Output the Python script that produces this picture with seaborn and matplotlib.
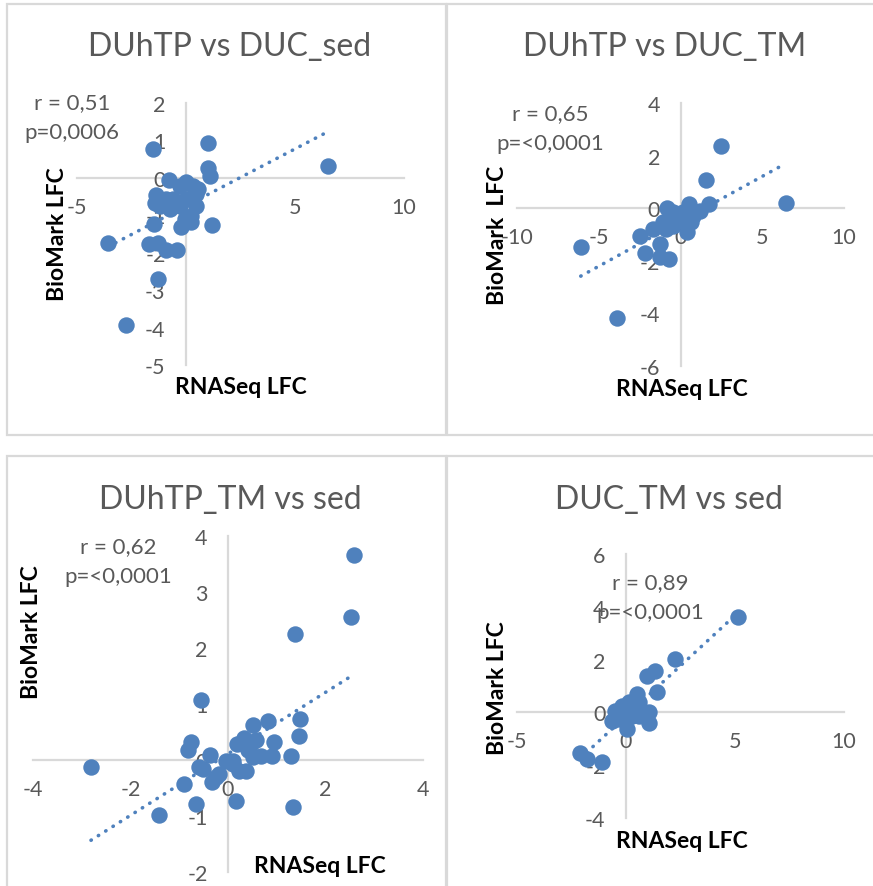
import numpy as np
import seaborn as sns
import matplotlib.pyplot as plt
from matplotlib.ticker import MultipleLocator
from matplotlib.patches import Rectangle

# values (RNASeq LFC vs BioMark LFC)
p1_x = [-1.53, 0.99, 6.51, 1.01, 1.10, -0.80, -3.58, -2.74, -1.30, -1.48, 1.21, -0.21, 0.24,
        -1.71, -1.30, -0.93, -0.41, -1.36, -1.44, -0.90, -1.21, -0.75, -0.29, 0.02, 0.32,
        0.55, 0.47, 0.47, 0.02, -0.29, -0.60, 0.24, -0.06]
p1_y = [0.77, 0.93, 0.32, 0.26, 0.04, -0.07, -1.74, -3.93, -2.70, -1.24, -1.26, -1.31, -1.17,
        -1.78, -1.75, -1.94, -1.92, -0.47, -0.67, -0.56, -0.74, -0.83, -0.21, -0.12, -0.21,
        -0.29, -0.43, -0.74, -0.56, -0.74, -0.56, -1.01, -1.10]

p2_x = [2.47, 1.59, 6.43, 1.76, 0.53, -0.80, 1.22, -6.10, -2.47, -2.18, -3.86, -0.69, -1.27,
        -1.27, -1.67, -0.45, -0.04, 0.37, 0.67, 0.37, -0.45, -0.86, -1.06, -0.24, -0.65, 0.16, 0.78]
p2_y = [2.35, 1.08, 0.20, 0.16, 0.16, 0.00, -0.10, -1.46, -1.04, -1.70, -4.18, -1.95, -1.86,
        -1.35, -0.78, -0.15, -0.28, -0.53, -0.53, -0.91, -0.66, -0.78, -0.53, -0.41, -0.41, -0.15, -0.28]

p3_x = [2.58, 2.52, 1.38, -0.56, -2.81, -1.41, -0.66, 0.16, 1.33, -0.90, -0.33, -0.75, -0.83,
        -0.37, 0.51, 0.83, 1.48, 1.45, 0.95, 1.29, 0.90, 0.68, 0.18, 0.33, 0.47, 0.57, 0.40,
        0.51, -0.04, 0.10, 0.23, 0.37, -0.18, -0.52, -0.59, -0.25, 0.10]
p3_y = [3.66, 2.55, 2.25, 1.08, -0.12, -0.99, -0.79, -0.74, -0.84, -0.43, -0.40, 0.32, 0.18,
        0.09, 0.62, 0.70, 0.74, 0.43, 0.32, 0.07, 0.07, 0.07, 0.29, 0.40, 0.29, 0.35, 0.17,
        0.05, -0.01, -0.07, -0.19, -0.19, -0.25, -0.16, -0.13, -0.31, -0.01]

p4_x = [5.15, 2.24, 1.35, 0.96, 1.42, 0.51, -2.10, -1.79, -1.10, 1.07, 0.05, -0.64, -0.49,
        -0.18, 0.12, 0.43, 0.74, 1.04, 0.58, 0.28, -0.03, -0.34, 0.20, 0.58]
p4_y = [3.63, 2.04, 1.58, 1.39, 0.76, 0.69, -1.54, -1.77, -1.87, -0.40, -0.63, -0.32, 0.06,
        0.25, 0.38, 0.19, 0.06, 0.00, -0.13, -0.13, -0.13, -0.25, 0.06, 0.38]

titles = ['DUhTP vs DUC_sed', 'DUhTP vs DUC_TM', 'DUhTP_TM vs sed', 'DUC_TM vs sed']
r_texts = ['r = 0,51', 'r = 0,65', 'r = 0,62', 'r = 0,89']
p_texts = ['p=0,0006', 'p=<0,0001', 'p=<0,0001', 'p=<0,0001']
ylabels = ['BioMark LFC', 'BioMark  LFC', 'BioMark LFC', 'BioMark LFC']
xlabel = 'RNASeq LFC'

W, H = 873, 887
BLUE = '#4F81BD'
GREY = '#595959'
LINE = '#D9D9D9'

sns.set_style('white')
plt.rcParams['font.family'] = ['Lato', 'DejaVu Sans']
plt.rcParams['axes.unicode_minus'] = False


def px(x, y):
    return x / W, 1 - y / H


def draw_panel(fig, box, x, y, xlim, ylim, xstep, ystep, ystep_minor):
    x0, x1, y0, y1 = box
    ax = fig.add_axes([x0 / W, 1 - y1 / H, (x1 - x0) / W, (y1 - y0) / H])
    ax.set_facecolor('none')
    sns.scatterplot(x=x, y=y, ax=ax, s=140, color=BLUE, linewidth=0, zorder=1)
    sns.regplot(x=x, y=y, ax=ax, scatter=False, ci=None, truncate=True,
                line_kws=dict(color=BLUE, lw=2.6, ls=(0, (0.1, 2.3)),
                              dash_capstyle='round', zorder=2))
    ax.set_xlim(xlim)
    ax.set_ylim(ylim)
    ax.set_xlabel('')
    ax.set_ylabel('')
    ax.set_axisbelow(True)
    for side in ['top', 'right']:
        ax.spines[side].set_visible(False)
    for side in ['left', 'bottom']:
        ax.spines[side].set_position('zero')
        ax.spines[side].set_color(LINE)
        ax.spines[side].set_linewidth(1.6)
        ax.spines[side].set_zorder(0.5)
    ax.xaxis.set_major_locator(MultipleLocator(xstep))
    ax.xaxis.set_minor_locator(MultipleLocator(1))
    ax.yaxis.set_major_locator(MultipleLocator(ystep))
    ax.yaxis.set_minor_locator(MultipleLocator(ystep_minor))
    ax.tick_params(which='both', direction='inout', length=7.5, width=1.4,
                   color=LINE, labelcolor=GREY, labelsize=15.5)
    ax.tick_params(axis='x', pad=10)
    ax.tick_params(axis='y', pad=11)
    return ax


fig = plt.figure(figsize=(W / 100, H / 100), dpi=100)

# panel frames
for (fx0, fy0, fx1, fy1) in [(7, 5, 446, 436), (447, 5, 880, 436),
                             (7, 457, 446, 895), (447, 457, 880, 895)]:
    fig.add_artist(Rectangle(px(fx0, fy1), (fx1 - fx0) / W, (fy1 - fy0) / H,
                             transform=fig.transFigure, fill=False,
                             edgecolor=LINE, lw=1.6))

draw_panel(fig, (77, 404, 104, 366), p1_x, p1_y, (-5, 10), (-5, 2), 5, 1, 0.5)
draw_panel(fig, (517, 844, 104, 367), p2_x, p2_y, (-10, 10), (-6, 4), 5, 2, 0.5)
draw_panel(fig, (33, 423, 537, 873), p3_x, p3_y, (-4, 4), (-2, 4), 2, 1, 0.5)
draw_panel(fig, (517, 844, 555, 819), p4_x, p4_y, (-5, 10), (-4, 6), 5, 2, 0.5)

title_pos = [(230, 47), (665, 47), (230, 500), (669, 500)]
r_pos = [(72, 103), (550, 114), (118, 547), (650, 583)]
p_pos = [(72, 133), (550, 144), (118, 577), (650, 613)]
ylab_pos = [(58, 234), (498, 235), (32, 632), (498, 688)]
xlab_pos = [(241, 388), (682, 390), (320, 867), (682, 842)]

for i in range(4):
    fig.text(*px(*title_pos[i]), titles[i], ha='center', va='center',
             fontsize=23, color=GREY)
    fig.text(*px(*r_pos[i]), r_texts[i], ha='center', va='center',
             fontsize=16, color=GREY)
    fig.text(*px(*p_pos[i]), p_texts[i], ha='center', va='center',
             fontsize=16, color=GREY)
    fig.text(*px(*ylab_pos[i]), ylabels[i], ha='center', va='center',
             rotation=90, fontsize=16.5, fontweight='bold', color='black')
    fig.text(*px(*xlab_pos[i]), xlabel, ha='center', va='center',
             fontsize=16.5, fontweight='bold', color='black')

fig.savefig('out.png', dpi=100, facecolor='white')
